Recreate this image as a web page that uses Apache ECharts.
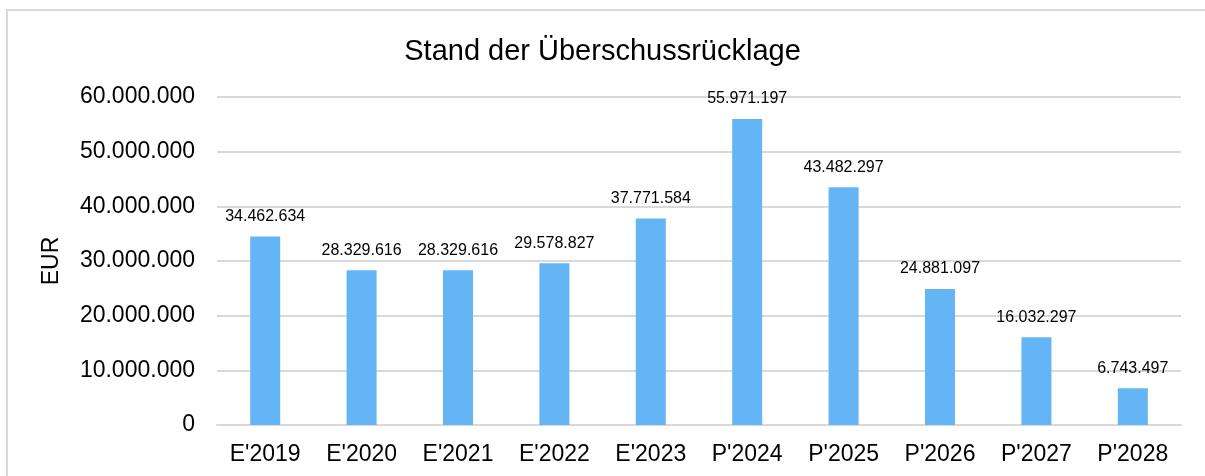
<!DOCTYPE html>
<html>
<head>
<meta charset="utf-8">
<script src="https://cdn.jsdelivr.net/npm/echarts@6/dist/echarts.min.js"></script>
<style>
  html, body { margin: 0; padding: 0; background: #fff; }
  #chart { width: 1205px; height: 476px; }
</style>
</head>
<body>
<div id="chart"></div>
<script>
// Reserve balance per year (E = Ergebnis, P = Plan)
const categories = ["E'2019", "E'2020", "E'2021", "E'2022", "E'2023", "P'2024", "P'2025", "P'2026", "P'2027", "P'2028"];
const reserveValues = [34462634, 28329616, 28329616, 29578827, 37771584, 55971197, 43482297, 24881097, 16032297, 6743497];
const yTicks = { min: 0, max: 60000000, interval: 10000000 };

const fmt = v => String(Math.round(v)).replace(/\B(?=(\d{3})+(?!\d))/g, '.');
const font = '"Liberation Sans", Arial, sans-serif';

const chart = echarts.init(document.getElementById('chart'));
chart.setOption({
  animation: false,
  backgroundColor: '#fff',
  textStyle: { fontFamily: font },
  graphic: [{
    type: 'rect',
    shape: { x: 7, y: 10, width: 1220, height: 500 },
    style: { fill: 'none', stroke: '#d9d9d9', lineWidth: 2 },
    silent: true
  }],
  title: {
    text: 'Stand der Überschussrücklage',
    left: 'center',
    top: 32,
    textStyle: { fontFamily: font, fontSize: 29, fontWeight: 'normal', color: '#000' }
  },
  grid: { left: 217, right: 24, top: 97, bottom: 51 },
  xAxis: {
    type: 'category',
    data: categories,
    axisLine: { lineStyle: { color: '#d9d9d9', width: 2 } },
    axisTick: { show: false },
    axisLabel: { fontFamily: font, fontSize: 23, color: '#000', margin: 18 }
  },
  yAxis: {
    type: 'value',
    min: yTicks.min,
    max: yTicks.max,
    interval: yTicks.interval,
    name: 'EUR',
    nameLocation: 'middle',
    nameRotate: 90,
    nameGap: 154,
    nameTextStyle: { fontFamily: font, fontSize: 23, color: '#000' },
    axisLine: { show: false },
    axisTick: { show: false },
    splitLine: { lineStyle: { color: '#d9d9d9', width: 2 } },
    axisLabel: { fontFamily: font, fontSize: 23, color: '#000', margin: 22, formatter: fmt }
  },
  series: [{
    type: 'bar',
    data: reserveValues,
    barWidth: 30,
    itemStyle: { color: '#64b5f6' },
    label: {
      show: true,
      position: 'top',
      distance: 12,
      fontFamily: font,
      fontSize: 16,
      color: '#000',
      formatter: p => fmt(p.value)
    }
  }]
});
</script>
</body>
</html>
